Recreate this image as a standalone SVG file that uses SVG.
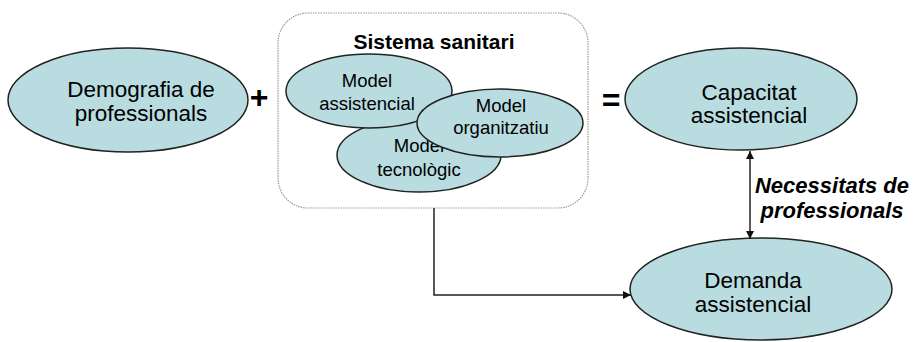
<svg xmlns="http://www.w3.org/2000/svg" width="913" height="342" viewBox="0 0 913 342">
<style>
.el{fill:#b8dce0;stroke:#222;stroke-width:1.5}
.t{font-family:"Liberation Sans",Arial,sans-serif;fill:#000;text-anchor:middle}
.big{font-size:22.5px}
.mid{font-size:18.5px}
.op{font-size:32px;font-weight:bold}
.con{fill:none;stroke:#222;stroke-width:1.5}
.lbl{font-size:22px;font-weight:bold;font-style:italic}
</style>
<defs>
<marker id="ah" viewBox="0 0 10 10" refX="10" refY="5" markerWidth="8" markerHeight="8" orient="auto-start-reverse" markerUnits="userSpaceOnUse">
<path d="M0,0 L10,5 L0,10 z" fill="#111"/>
</marker>
</defs>
<rect fill="#fff" width="913" height="342"/>
<g id="sistema">
<rect x="278" y="13" width="310" height="195" rx="30" ry="30" fill="#fff" stroke="#999" stroke-width="1.2" stroke-dasharray="1.5,1"/>
<text class="t" x="434" y="49" style="font-size:21px;font-weight:bold">Sistema sanitari</text>
</g>
<g id="demografia">
<ellipse class="el" cx="128" cy="100" rx="120" ry="52"/>
<text class="t big" x="141" y="97">Demografia de</text>
<text class="t big" x="141" y="121">professionals</text>
</g>
<g id="model-tecnologic">
<ellipse class="el" cx="419" cy="155" rx="82" ry="37"/>
<text class="t mid" x="419" y="152">Model</text>
<text class="t mid" x="419" y="176">tecnològic</text>
</g>
<g id="model-assistencial">
<ellipse class="el" cx="369" cy="91" rx="83" ry="37"/>
<text class="t mid" x="367" y="87">Model</text>
<text class="t mid" x="367" y="110">assistencial</text>
</g>
<g id="model-organitzatiu">
<ellipse class="el" cx="500" cy="123" rx="83" ry="34"/>
<text class="t mid" x="501" y="112">Model</text>
<text class="t mid" x="501" y="134">organitzatiu</text>
</g>
<g id="capacitat">
<ellipse class="el" cx="741" cy="99" rx="116" ry="51"/>
<text class="t big" x="749" y="100">Capacitat</text>
<text class="t big" x="749" y="123">assistencial</text>
</g>
<g id="demanda">
<ellipse class="el" cx="761" cy="289" rx="131" ry="51"/>
<text class="t big" x="753" y="288">Demanda</text>
<text class="t big" x="753" y="312">assistencial</text>
</g>
<g id="operators">
<text class="t op" x="259" y="108">+</text>
<text class="t op" x="611" y="111">=</text>
</g>
<g id="connectors">
<line class="con" x1="750" y1="151" x2="750" y2="239" marker-start="url(#ah)" marker-end="url(#ah)"/>
<polyline class="con" points="434,208 434,295 631,295" marker-end="url(#ah)"/>
</g>
<g id="label">
<text class="t lbl" x="832" y="193">Necessitats de</text>
<text class="t lbl" x="832" y="218">professionals</text>
</g>
</svg>
